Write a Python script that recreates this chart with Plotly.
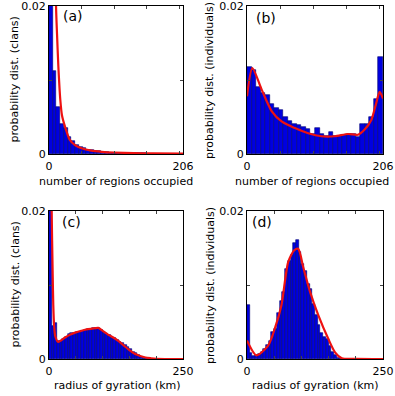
import numpy as np
import plotly.graph_objects as go

# ---- data ----
regions_max = 206
radius_max = 250

# (a) clans: number of regions occupied (36 bins)
regions_clans_hist = [0.08, 0.0112, 0.0063, 0.0041, 0.0035, 0.0023, 0.0017, 0.0012,
                      0.0010, 0.0008, 0.0006, 0.0006, 0.0004, 0.0004, 0.0003, 0.0003,
                      0.0002, 0.0002, 0.0002, 0.00015, 0.00012, 0.0001, 0.0001, 0.0001,
                      0.00008, 0.00008, 0.00006, 0.00006, 0.00005, 0.00005, 0.00004,
                      0.00004, 0.00003, 0.00003, 0.00003, 0.00003]
regions_clans_fit_x = [8, 10.8, 12.3, 14.4, 17.4, 20, 24.6, 32, 40, 50, 65, 81, 100, 130, 160, 206]
regions_clans_fit_y = [0.05, 0.02, 0.0163, 0.0118, 0.0073, 0.0052, 0.0037, 0.0019, 0.0012,
                       0.00077, 0.00045, 0.0003, 0.0002, 0.00012, 0.00008, 0.00005]

# (b) individuals: number of regions occupied (30 bins)
regions_ind_hist = [0.0118, 0.0113, 0.0090, 0.0082, 0.0080, 0.0068, 0.0062, 0.0060, 0.0050,
                    0.0044, 0.0040, 0.0039, 0.0036, 0.0034, 0.0027, 0.0035, 0.0027, 0.0025,
                    0.0030, 0.0025, 0.0025, 0.0026, 0.0027, 0.0027, 0.0023, 0.0040, 0.0041,
                    0.0050, 0.0074, 0.0131]
regions_ind_fit_x = [0, 8.1, 22.2, 37.3, 52.4, 72.5, 92.7, 112.8, 132.9, 153, 168.2, 178.2,
                     188.3, 195.8, 200.9, 206]
regions_ind_fit_y = [0.0078, 0.0116, 0.0087, 0.0058, 0.0044, 0.0035, 0.0028, 0.0024, 0.0024,
                     0.0027, 0.0026, 0.0033, 0.0046, 0.0069, 0.0084, 0.0075]

# (c) clans: radius of gyration (50 bins of 5 km)
radius_clans_hist = [0.040, 0.0045, 0.0048, 0.0024, 0.0025, 0.0027, 0.0030, 0.0034, 0.0035,
                     0.0035, 0.0036, 0.0037, 0.0038, 0.0039, 0.0040, 0.0041, 0.0042, 0.0042,
                     0.0042, 0.0039, 0.0036, 0.0034, 0.0032, 0.0030, 0.0028, 0.0026, 0.0023,
                     0.0021, 0.0019, 0.0016, 0.0013, 0.0010, 0.0008, 0.0005, 0.0003, 0.0002,
                     0.0001, 0.00005, 0.00004, 0.00003, 0.00003, 0.00002, 0.00002, 0.00002,
                     0.00001, 0.00001, 0.00001, 0.00001, 0.00001, 0.00001]
radius_clans_fit_x = [3, 5, 7, 8, 9.5, 12, 17, 22, 30, 40, 50, 60, 70, 80, 92, 100, 110, 120,
                      130, 140, 150, 160, 170, 180, 190, 200, 250]
radius_clans_fit_y = [0.04, 0.02, 0.011, 0.0073, 0.0046, 0.0030, 0.0023, 0.0025, 0.0029,
                      0.0033, 0.0036, 0.0038, 0.0040, 0.0041, 0.0042, 0.0038, 0.0033, 0.0029,
                      0.0024, 0.0018, 0.0012, 0.0007, 0.0004, 0.0002, 0.0001, 0.00003, 0.0]

# (d) individuals: radius of gyration (50 bins of 5 km)
radius_ind_hist = [0.0073, 0.0008, 0.0004, 0.0005, 0.0007, 0.0010, 0.0014, 0.0019, 0.0025,
                   0.0036, 0.0040, 0.0062, 0.0078, 0.0090, 0.0122, 0.0132, 0.0140, 0.0157,
                   0.0161, 0.0145, 0.0128, 0.0119, 0.0101, 0.0095, 0.0075, 0.0060, 0.0046,
                   0.0035, 0.0030, 0.0027, 0.0018, 0.0010, 0.0005, 0.0002, 0.0001, 0.00005,
                   0.00003, 0.00002, 0.00002, 0.00001, 0.00001, 0.00001, 0.00001, 0.00001,
                   0.0, 0.0, 0.0, 0.0, 0.0, 0.0]
radius_ind_fit_x = [0, 17.2, 38.8, 51.1, 63.4, 75.7, 86.8, 94.2, 103.4, 115.8, 131.2, 149.6,
                    161.9, 174.3, 200, 250]
radius_ind_fit_y = [0.0025, 0.0005, 0.0018, 0.0041, 0.0073, 0.0131, 0.0147, 0.0149, 0.0124,
                    0.0091, 0.0059, 0.0027, 0.0009, 0.0001, 0.00002, 0.0]

panels = [
    # hist, fit x, fit y, xmax, label, ytitle, xtitle
    (regions_clans_hist, regions_clans_fit_x, regions_clans_fit_y, regions_max, "(a)",
     "probability dist. (clans)", "number of regions occupied"),
    (regions_ind_hist, regions_ind_fit_x, regions_ind_fit_y, regions_max, "(b)",
     "probability dist. (individuals)", "number of regions occupied"),
    (radius_clans_hist, radius_clans_fit_x, radius_clans_fit_y, radius_max, "(c)",
     "probability dist. (clans)", "radius of gyration (km)"),
    (radius_ind_hist, radius_ind_fit_x, radius_ind_fit_y, radius_max, "(d)",
     "probability dist. (individuals)", "radius of gyration (km)"),
]

W, H = 395, 396
# plot boxes in pixels: x0, x1, y0(top), y1(bottom)
boxes = [(49, 183, 6, 154), (247, 383, 6, 154), (49, 183, 211, 359), (247, 383, 211, 359)]
label_pos = [(72.5, 16.5), (266, 18), (71, 221.5), (262, 221.5)]
ytitle_x = [14.5, 210, 14.5, 210]
xtitle_pos = [(115.5, 182), (312, 182), (117, 385), (315, 385)]

FONT = "DejaVu Sans"
fig = go.Figure()
layout = {}
annotations = []

for i, (hist, fx, fy, xmax, lab, ytitle, xtitle) in enumerate(panels):
    n = i + 1
    xa = "x" if n == 1 else f"x{n}"
    ya = "y" if n == 1 else f"y{n}"
    edges = np.linspace(0, xmax, len(hist) + 1)
    centers = (edges[:-1] + edges[1:]) / 2
    width = edges[1] - edges[0]
    fig.add_trace(go.Bar(x=centers, y=hist, width=width, xaxis=xa, yaxis=ya,
                         marker=dict(color="#0000e0", line=dict(color="#000070", width=0.6)),
                         showlegend=False))
    fig.add_trace(go.Scatter(x=fx, y=fy, mode="lines", xaxis=xa, yaxis=ya,
                             line=dict(color="#ee1111", width=2.2, shape="spline", smoothing=0.7),
                             showlegend=False))

    x0, x1, y0, y1 = boxes[i]
    xkey = "xaxis" if n == 1 else f"xaxis{n}"
    ykey = "yaxis" if n == 1 else f"yaxis{n}"
    xticks = [0, 50, 100, 150, 200] + ([xmax] if xmax not in (0, 50, 100, 150, 200) else [])
    xtext = ["0"] + [""] * (len(xticks) - 2) + [str(xmax)]
    layout[xkey] = dict(domain=[x0 / W, x1 / W], range=[0, xmax], anchor=ya,
                        tickvals=xticks, ticktext=xtext, ticks="inside", ticklen=3,
                        showline=True, linecolor="black", linewidth=1, mirror="ticks",
                        showgrid=False, zeroline=False, automargin=False,
                        ticklabeloverflow="allow", ticklabelstandoff=2,
                        tickfont=dict(size=11, color="black"))
    layout[ykey] = dict(domain=[1 - y1 / H, 1 - y0 / H], range=[0, 0.02], anchor=xa,
                        tickvals=[0, 0.01, 0.02], ticktext=["0", "", "0.02"],
                        ticks="inside", ticklen=3,
                        showline=True, linecolor="black", linewidth=1, mirror="ticks",
                        showgrid=False, zeroline=False, automargin=False,
                        ticklabeloverflow="allow",
                        tickfont=dict(size=11, color="black"))

    annotations.append(dict(x=label_pos[i][0] / W, y=1 - label_pos[i][1] / H, xref="paper",
                            yref="paper", text=lab, showarrow=False,
                            xanchor="center", yanchor="middle",
                            font=dict(size=14, color="black")))
    annotations.append(dict(x=ytitle_x[i] / W, y=1 - ((y0 + y1) / 2) / H, xref="paper",
                            yref="paper", text=ytitle, textangle=-90, showarrow=False,
                            xanchor="center", yanchor="middle",
                            font=dict(size=11, color="black")))
    annotations.append(dict(x=xtitle_pos[i][0] / W, y=1 - xtitle_pos[i][1] / H, xref="paper",
                            yref="paper", text=xtitle, showarrow=False,
                            xanchor="center", yanchor="middle",
                            font=dict(size=11, color="black")))

fig.update_layout(width=W, height=H,
                  margin=dict(l=0, r=0, t=0, b=0, pad=0, autoexpand=False),
                  paper_bgcolor="white", plot_bgcolor="white", bargap=0,
                  font=dict(family=FONT, color="black"), annotations=annotations, **layout)

# the page's default body margin would shift the figure by 8px
fig.write_html("out.html", config={"displayModeBar": False},
               post_script="document.body.style.margin='0';document.body.style.overflow='hidden';")
